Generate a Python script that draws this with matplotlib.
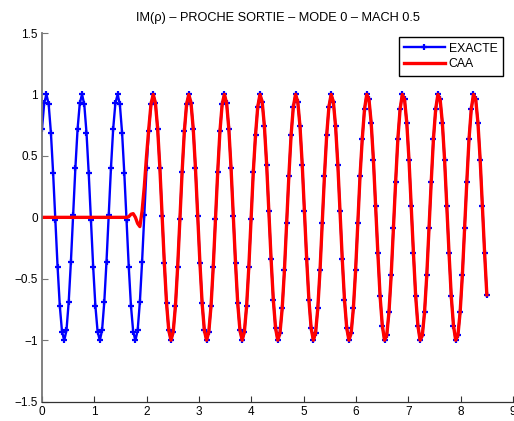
import numpy as np
import matplotlib
matplotlib.use('Agg')
import matplotlib.pyplot as plt

plt.rcParams['font.family'] = ['Liberation Sans', 'DejaVu Sans']

# sampling grid of the EXACTE curve (201 points from 0 to 8.5)
x_start, x_end, n_points = 0.0, 8.5, 201

# EXACTE values read at each '+' marker
exacte = [
    0.72, 0.93, 1.00, 0.92, 0.69, 0.36, -0.02, -0.40, -0.72, -0.93, -1.00, -0.92, -0.69, -0.36, 0.02, 0.40,
    0.72, 0.93, 1.00, 0.92, 0.69, 0.36, -0.02, -0.40, -0.72, -0.93, -1.00, -0.92, -0.69, -0.36, 0.02, 0.40,
    0.72, 0.93, 1.00, 0.92, 0.69, 0.36, -0.02, -0.40, -0.72, -0.93, -1.00, -0.92, -0.69, -0.36, 0.02, 0.40,
    0.70, 0.92, 1.00, 0.93, 0.72, 0.40, 0.01, -0.37, -0.70, -0.92, -1.00, -0.93, -0.72, -0.40, -0.01, 0.37,
    0.70, 0.92, 1.00, 0.93, 0.72, 0.40, 0.01, -0.37, -0.70, -0.92, -1.00, -0.93, -0.72, -0.40, -0.01, 0.37,
    0.70, 0.92, 1.00, 0.93, 0.72, 0.40, 0.01, -0.37, -0.70, -0.92, -1.00, -0.93, -0.72, -0.40, -0.01, 0.37,
    0.67, 0.90, 1.00, 0.94, 0.74, 0.43, 0.05, -0.34, -0.67, -0.90, -1.00, -0.94, -0.74, -0.43, -0.05, 0.34,
    0.67, 0.90, 1.00, 0.94, 0.74, 0.43, 0.05, -0.34, -0.67, -0.90, -1.00, -0.94, -0.74, -0.43, -0.05, 0.34,
    0.67, 0.90, 1.00, 0.94, 0.74, 0.43, 0.05, -0.34, -0.67, -0.90, -1.00, -0.94, -0.74, -0.43, -0.05, 0.34,
    0.64, 0.88, 1.00, 0.96, 0.77, 0.47, 0.09, -0.29, -0.64, -0.88, -1.00, -0.96, -0.77, -0.47, -0.09, 0.29,
    0.64, 0.88, 1.00, 0.96, 0.77, 0.47, 0.09, -0.29, -0.64, -0.88, -1.00, -0.96, -0.77, -0.47, -0.09, 0.29,
    0.64, 0.88, 1.00, 0.96, 0.77, 0.47, 0.09, -0.29, -0.64, -0.88, -1.00, -0.96, -0.77, -0.47, -0.09, 0.29,
    0.64, 0.88, 1.00, 0.96, 0.77, 0.47, 0.09, -0.29, -0.63,
]

# CAA: zero until ~1.65, small wiggle, then lies on top of the exact solution
caa_head = [0.0] * 39 + [0.005, 0.025, 0.03, 0.0, -0.05, -0.075, 0.05, 0.25, 0.50, 0.72, 0.92]
caa = caa_head + exacte[len(caa_head):]

x = np.linspace(x_start, x_end, n_points)

xticks = [0, 1, 2, 3, 4, 5, 6, 7, 8, 9]
yticks = [-1.5, -1, -0.5, 0, 0.5, 1, 1.5]
ytick_labels = ['\u22121.5', '\u22121', '\u22120.5', '0', '0.5', '1', '1.5']

fig = plt.figure(figsize=(5.14, 4.21), dpi=100)
ax = fig.add_axes([42 / 514, 19.3 / 421, 471 / 514, 368.7 / 421])

ax.plot(x, exacte, color='#0000ff', lw=1.7, marker='+', ms=5, mew=1.6, label='EXACTE')
ax.plot(x, caa, color='#ff0000', lw=2.4, label='CAA')

ax.set_xlim(0, 9)
ax.set_ylim(-1.5, 1.5)
ax.set_xticks(xticks)
ax.set_xticklabels([str(t) for t in xticks])
ax.set_yticks(yticks)
ax.set_yticklabels(ytick_labels)

for s in ['top', 'right']:
    ax.spines[s].set_visible(False)
ax.spines['left'].set_color('#777777')
ax.spines['left'].set_linewidth(1.3)
ax.spines['bottom'].set_color('#333333')
ax.spines['bottom'].set_linewidth(0.9)
ax.tick_params(direction='in', length=4, width=0.8, labelsize=8.5, pad=3)
ax.tick_params(axis='y', colors='#777777', labelcolor='black')
ax.tick_params(axis='x', colors='#333333', labelcolor='black')

ax.set_title('IM(\u03c1) \u2013 PROCHE SORTIE \u2013 MODE 0 \u2013 MACH 0.5', fontsize=9.2, pad=8.5)

leg = ax.legend(loc='upper right', bbox_to_anchor=(0.979, 0.989), borderaxespad=0,
                fontsize=8.8, handlelength=3.3, handletextpad=0.35, labelspacing=0.3,
                borderpad=0.45, fancybox=False, framealpha=1, numpoints=1)
leg.get_frame().set_edgecolor('black')
leg.get_frame().set_linewidth(1.0)

fig.savefig('out.png', dpi=100)
